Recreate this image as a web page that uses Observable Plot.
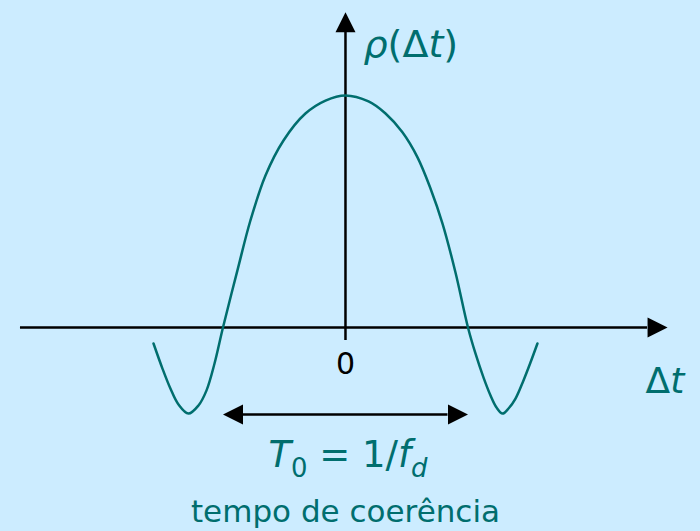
<!DOCTYPE html>
<html>
<head>
<meta charset="utf-8">
<script src="https://cdn.jsdelivr.net/npm/d3@7"></script>
<script src="https://cdn.jsdelivr.net/npm/@observablehq/plot@0.6"></script>
<style>
  html, body { margin: 0; padding: 0; background: #CCECFF; }
  #chart svg { display: block; }
</style>
</head>
<body>
<div id="chart"></div>
<script>
// ---- data (Δt in units of T0/2, ρ normalised to its peak) ----
const curveDt  = [-1.567, -1.494, -1.429, -1.363, -1.282, -1.200, -1.135, -1.069, -1.0, -0.882, -0.776, -0.653, -0.506, -0.327, -0.163, 0, 0.188, 0.327, 0.465, 0.588, 0.694, 0.792, 0.898, 1.0, 1.061, 1.127, 1.184, 1.233, 1.282, 1.331, 1.388, 1.453, 1.510, 1.567];
const curveRho = [-0.069, -0.177, -0.263, -0.332, -0.371, -0.336, -0.272, -0.155, 0, 0.246, 0.461, 0.655, 0.806, 0.922, 0.978, 1.0, 0.974, 0.922, 0.841, 0.733, 0.599, 0.448, 0.237, 0, -0.112, -0.216, -0.293, -0.345, -0.371, -0.349, -0.306, -0.228, -0.151, -0.069];

const xAxisExtent = [-2.653, 2.629];   // horizontal axis (Δt)
const yAxisExtent = [-0.056, 1.358];   // vertical axis (ρ)
const coherenceSpan = [-1.0, 1.0];     // T0 span
const coherenceLevel = -0.375;

const labelTexts = ["ρ(Δt)", "0", "Δt", "T0 = 1/fd", "tempo de coerência"];
const labelX     = [0.147, 0, 2.449, 0.02, 0];
const labelY     = [1.216, -0.161, -0.234, -0.548, -0.797];

// ---- layout ----
const W = 700, H = 531;
const xDomain = [-2.816, 2.898];
const yDomain = [-0.879, 1.409];
const pxX = W / (xDomain[1] - xDomain[0]);
const pxY = H / (yDomain[1] - yDomain[0]);
const headLen = 20, headHalf = 10;
const teal = "#006E6E";

const curve = curveDt.map((d, i) => ({dt: d, rho: curveRho[i]}));
const labels = labelTexts.map((t, i) => ({text: t, x: labelX[i], y: labelY[i]}));

const arrowShape = {
  draw(context, l, r) {
    context.moveTo(0, -l);
    context.lineTo(r, 0);
    context.lineTo(-r, 0);
    context.closePath();
  }
};

const heads = [
  {x: xAxisExtent[1], y: 0, rotate: 90},
  {x: 0, y: yAxisExtent[1], rotate: 0},
  {x: coherenceSpan[0], y: coherenceLevel, rotate: -90},
  {x: coherenceSpan[1], y: coherenceLevel, rotate: 90}
];

const hShort = headLen / pxX, vShort = headLen / pxY;

const font = "DejaVu Sans, Verdana, sans-serif";

const chart = Plot.plot({
  width: W, height: H,
  marginTop: 0, marginRight: 0, marginBottom: 0, marginLeft: 0,
  x: {domain: xDomain, axis: null},
  y: {domain: yDomain, axis: null},
  style: {background: "#CCECFF", fontFamily: font},
  marks: [
    Plot.ruleY([0], {x1: xAxisExtent[0], x2: xAxisExtent[1] - hShort, stroke: "black", strokeWidth: 2.5}),
    Plot.ruleX([0], {y1: yAxisExtent[0], y2: yAxisExtent[1] - vShort, stroke: "black", strokeWidth: 2.5}),
    Plot.ruleY([coherenceLevel], {x1: coherenceSpan[0] + hShort, x2: coherenceSpan[1] - hShort, stroke: "black", strokeWidth: 2.5}),
    Plot.vector(heads, {x: "x", y: "y", rotate: "rotate", length: headLen, r: headHalf, anchor: "end", shape: arrowShape, fill: "black", stroke: "none"}),
    Plot.line(curve, {x: "dt", y: "rho", curve: "catmull-rom", stroke: teal, strokeWidth: 2.5}),
    Plot.text(labels.filter(d => d.text === "ρ(Δt)"), {x: "x", y: "y", text: "text", textAnchor: "start", fontSize: 38, fill: teal}),
    Plot.text(labels.filter(d => d.text === "Δt"), {x: "x", y: "y", text: "text", textAnchor: "start", fontSize: 36, fill: teal}),
    Plot.text(labels.filter(d => d.text === "0"), {x: "x", y: "y", text: "text", textAnchor: "middle", fontSize: 30, fill: "black"}),
    Plot.text(labels.filter(d => d.text === "T0 = 1/fd"), {x: "x", y: "y", text: "text", textAnchor: "middle", fontSize: 37, fill: teal}),
    Plot.text(labels.filter(d => d.text === "tempo de coerência"), {x: "x", y: "y", text: "text", textAnchor: "middle", fontSize: 31, fill: teal})
  ]
});

// rich-text styling for the math labels
const richParts = {
  "ρ(Δt)": [["ρ", "i"], ["(", ""], ["Δ", ""], ["t", "i"], [")", ""]],
  "Δt": [["Δ", ""], ["t", "i"]],
  "T0 = 1/fd": [["T", "i"], ["0", "s"], [" = 1/", ""], ["f", "i"], ["d", "is"]]
};
d3.select(chart).selectAll("text").each(function() {
  const t = d3.select(this);
  const parts = richParts[this.textContent];
  if (!parts) return;
  t.text(null);
  let shifted = false;
  for (const [s, style] of parts) {
    const ts = t.append("tspan").text(s);
    if (style.includes("i")) ts.attr("font-style", "italic");
    const sub = style.includes("s");
    if (sub) {
      ts.attr("font-size", "0.7em");
      if (!shifted) { ts.attr("dy", "10"); shifted = true; }
    } else if (shifted) {
      ts.attr("dy", "-10"); shifted = false;
    }
  }
});

document.getElementById("chart").append(chart);
</script>
</body>
</html>
